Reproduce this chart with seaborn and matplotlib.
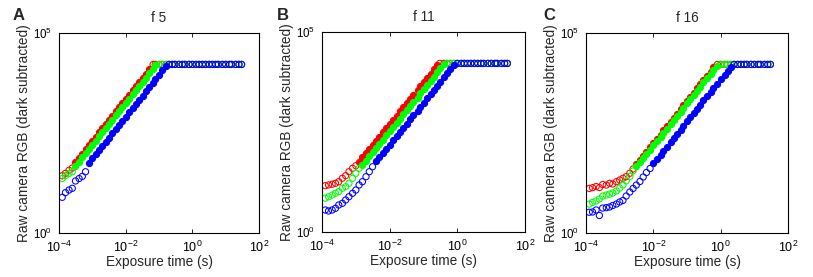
import numpy as np
import pandas as pd
import matplotlib
matplotlib.use("Agg")
import matplotlib.pyplot as plt
import seaborn as sns
from matplotlib.ticker import NullLocator

# ---------------- data ----------------
exposure_s = [1/8000, 1/6400, 1/5000, 1/4000, 1/3200, 1/2500, 1/2000, 1/1600, 1/1250, 1/1000,
              1/800, 1/640, 1/500, 1/400, 1/320, 1/250, 1/200, 1/160, 1/125, 1/100,
              1/80, 1/60, 1/50, 1/40, 1/30, 1/25, 1/20, 1/15, 1/13, 1/10,
              1/8, 1/6, 1/5, 1/4, 0.3, 0.4, 0.5, 0.6, 0.8, 1.0,
              1.3, 1.6, 2.0, 2.5, 3.2, 4.0, 5.0, 6.0, 8.0, 10.0,
              13.0, 15.0, 20.0, 25.0, 30.0]

red_f5 = [
    27, 31, 37, 42, 60, 76, 97, 124, 158, 201,
    256, 326, 415, 528, 673, 857, 1091, 1390, 1770, 2254,
    2871, 3656, 4656, 5929, 7551, 9616, 12246, 16383, 16383, 16383,
    16383, 16383, 16383, 16383, 16383, 16383, 16383, 16383, 16383, 16383,
    16383, 16383, 16383, 16383, 16383, 16383, 16383, 16383, 16383, 16383,
    16383, 16383, 16383, 16383, 16383]
green_f5 = [
    23, 27, 31, 34, 48, 61, 78, 99, 126, 161,
    205, 261, 332, 423, 538, 685, 873, 1112, 1416, 1803,
    2296, 2924, 3724, 4742, 6039, 7691, 9795, 12474, 15886, 16383,
    16383, 16383, 16383, 16383, 16383, 16383, 16383, 16383, 16383, 16383,
    16383, 16383, 16383, 16383, 16383, 16383, 16383, 16383, 16383, 16383,
    16383, 16383, 16383, 16383, 16383]
blue_f5 = [
    7.8, 10.2, 11.9, 13.1, 20, 23, 26, 34, 57, 73,
    92, 118, 150, 191, 243, 310, 394, 502, 640, 815,
    1038, 1321, 1683, 2143, 2729, 3475, 4426, 5636, 7178, 9141,
    11641, 14825, 16383, 16383, 16383, 16383, 16383, 16383, 16383, 16383,
    16383, 16383, 16383, 16383, 16383, 16383, 16383, 16383, 16383, 16383,
    16383, 16383, 16383, 16383, 16383]

red_f11 = [
    14.4, 15.0, 15.6, 16.5, 18.1, 22.0, 25.6, 32.2, 39.1, 45.5,
    57, 73, 92, 118, 150, 191, 243, 310, 394, 502,
    640, 815, 1037, 1321, 1682, 2142, 2728, 3474, 4424, 5635,
    7176, 9138, 11640, 14820, 16383, 16383, 16383, 16383, 16383, 16383,
    16383, 16383, 16383, 16383, 16383, 16383, 16383, 16383, 16383, 16383,
    16383, 16383, 16383, 16383, 16383]
green_f11 = [
    7.0, 7.6, 8.4, 9.3, 10.2, 12.4, 13.6, 16.5, 22.0, 29.4,
    39.1, 48, 61, 78, 99, 126, 161, 205, 261, 332,
    423, 539, 686, 873, 1112, 1417, 1804, 2297, 2926, 3726,
    4745, 6042, 7694, 9800, 12480, 15890, 16383, 16383, 16383, 16383,
    16383, 16383, 16383, 16383, 16383, 16383, 16383, 16383, 16383, 16383,
    16383, 16383, 16383, 16383, 16383]
blue_f11 = [
    3.55, 3.35, 3.55, 3.91, 4.73, 5.22, 6.31, 7.63, 9.28, 11.2,
    15.0, 18.1, 24.1, 32.2, 42.9, 58, 74, 94, 120, 153,
    194, 247, 315, 401, 511, 651, 829, 1056, 1344, 1712,
    2180, 2777, 3536, 4504, 5734, 7303, 9300, 11845, 15080, 16383,
    16383, 16383, 16383, 16383, 16383, 16383, 16383, 16383, 16383, 16383,
    16383, 16383, 16383, 16383, 16383]

red_f16 = [
    13.0, 13.6, 14.5, 13.7, 16.3, 15.8, 17.5, 16.8, 19.2, 21.1,
    23.3, 25.6, 31.1, 39.8, 53, 67.5, 86, 109, 139, 177,
    226, 288, 367, 467, 595, 757, 965, 1228, 1564, 1992,
    2537, 3230, 4115, 5240, 6674, 8500, 10822, 13780, 16383, 16383,
    16383, 16383, 16383, 16383, 16383, 16383, 16383, 16383, 16383, 16383,
    16383, 16383, 16383, 16383, 16383]
green_f16 = [
    5.3, 5.8, 6.3, 7.1, 8.4, 8.9, 9.4, 10.0, 11.2, 13.3,
    15.8, 20.0, 25.9, 35.5, 46, 58.6, 74.6, 95, 121, 154,
    196, 250, 318, 405, 516, 657, 837, 1066, 1357, 1729,
    2201, 2804, 3570, 4547, 5791, 7375, 9392, 11960, 15230, 16383,
    16383, 16383, 16383, 16383, 16383, 16383, 16383, 16383, 16383, 16383,
    16383, 16383, 16383, 16383, 16383]
blue_f16 = [
    3.3, 3.35, 3.76, 2.74, 4.2, 4.3, 4.47, 4.87, 5.3, 5.96,
    6.5, 8.4, 10.6, 13.0, 15.8, 19.4, 25.1, 32.5, 41, 55,
    70, 89, 114, 145, 184, 235, 299, 381, 485, 618,
    787, 1003, 1277, 1627, 2072, 2639, 3361, 4281, 5453, 6945,
    8846, 11267, 14300, 16383, 16383, 16383, 16383, 16383, 16383, 16383,
    16383, 16383, 16383, 16383, 16383]

# first and last exposure index drawn as filled (used) points
fit_f5 = {"R": (4, 26), "G": (4, 28), "B": (8, 31)}
fit_f11 = {"R": (10, 33), "G": (11, 35), "B": (15, 38)}
fit_f16 = {"R": (14, 37), "G": (14, 38), "B": (19, 42)}

panel_titles = ["f 5", "f 11", "f 16"]
panel_letters = ["A", "B", "C"]
xlabel = "Exposure time (s)"
ylabel = "Raw camera RGB (dark subtracted)"

panels = [
    ({"R": red_f5, "G": green_f5, "B": blue_f5}, fit_f5),
    ({"R": red_f11, "G": green_f11, "B": blue_f11}, fit_f11),
    ({"R": red_f16, "G": green_f16, "B": blue_f16}, fit_f16),
]

# ---------------- style ----------------
sns.set_style("white")
plt.rcParams["font.family"] = ["Liberation Sans", "DejaVu Sans"]
plt.rcParams["mathtext.fontset"] = "custom"
plt.rcParams["mathtext.rm"] = "Liberation Sans"
plt.rcParams["mathtext.it"] = "Liberation Sans:italic"
plt.rcParams["mathtext.bf"] = "Liberation Sans:bold"

channel_colors = {"R": (1, 0, 0), "G": (0, 1, 0), "B": (0, 0, 1)}

W, H = 813, 277
fig = plt.figure(figsize=(W / 100, H / 100), dpi=100)
boxes = [(59, 33, 200, 200), (322, 32, 203, 200), (586, 33, 202, 200)]
letter_x = [13, 277, 543]

t = np.array(exposure_s)
for (vals, fit), (bx, by, bw, bh), title, letter, lx in zip(
        panels, boxes, panel_titles, panel_letters, letter_x):
    ax = fig.add_axes([bx / W, 1 - (by + bh) / H, bw / W, bh / H])
    ax.set_xscale("log")
    ax.set_yscale("log")
    for ch in ["R", "G", "B"]:
        c = channel_colors[ch]
        v = np.array(vals[ch], dtype=float)
        idx = np.arange(len(v))
        i0, i1 = fit[ch]
        used = (idx >= i0) & (idx <= i1)
        df = pd.DataFrame({"t": t, "v": v, "used": used})
        sns.scatterplot(data=df[~df["used"]], x="t", y="v", ax=ax, s=20,
                        color=c, facecolor="none", edgecolor=c,
                        linewidth=0.75, legend=False)
        sns.scatterplot(data=df[df["used"]], x="t", y="v", ax=ax, s=20,
                        color=c, edgecolor=c, linewidth=0.75, legend=False)
    ax.set_xlim(1e-4, 1e2)
    ax.set_ylim(1, 1e5)
    ax.set_xticks([1e-4, 1e-2, 1, 1e2])
    ax.set_yticks([1, 1e5])
    ax.xaxis.set_minor_locator(NullLocator())
    ax.yaxis.set_minor_locator(NullLocator())
    ax.tick_params(axis="both", which="major", direction="in", length=3,
                   width=0.6, top=True, right=True, bottom=True, left=True,
                   colors="black")
    ax.tick_params(axis="x", pad=5, labelsize=9)
    ax.tick_params(axis="y", pad=5, labelsize=8.3)
    for sp in ax.spines.values():
        sp.set_color("black")
        sp.set_linewidth(0.8)
        sp.set_visible(True)
    ax.set_title(title, fontsize=9.8, pad=8)
    ax.set_xlabel(xlabel, fontsize=9.8, labelpad=0)
    ax.set_ylabel(ylabel, fontsize=9.8)
    ax.yaxis.set_label_coords(-0.14, 0.5)
    fig.text(lx / W, 1 - 20 / H, letter, fontsize=12, fontweight="bold",
             va="baseline", ha="left")

fig.savefig("out.png", dpi=100)
